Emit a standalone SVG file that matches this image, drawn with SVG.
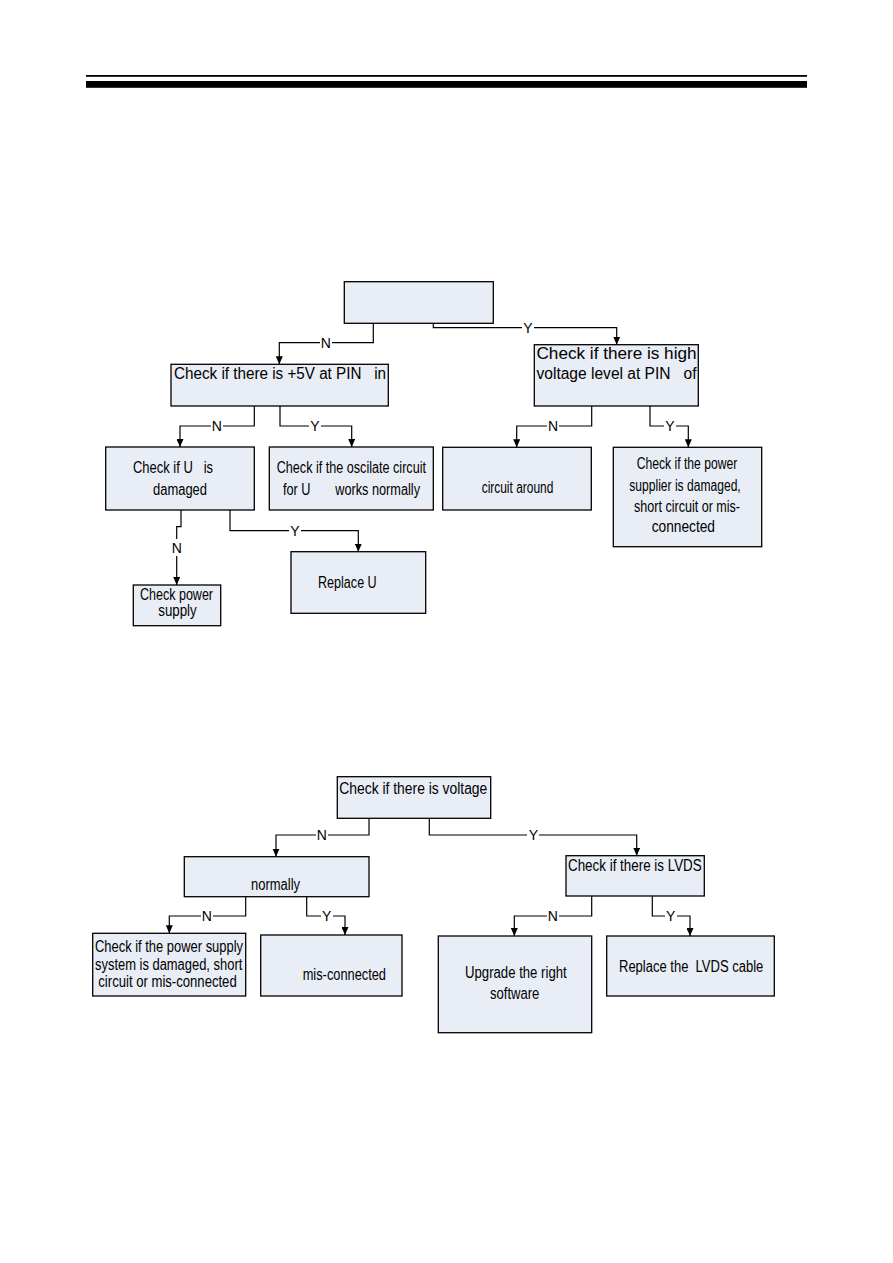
<svg xmlns="http://www.w3.org/2000/svg" width="893" height="1263" viewBox="0 0 893 1263">
<defs>
<marker id="ah" markerWidth="8" markerHeight="7" refX="8" refY="3.5" orient="auto" markerUnits="userSpaceOnUse" viewBox="0 0 8 7">
<path d="M0,0 L8,3.5 L0,7 Z" fill="#000"/>
</marker>
<style>
.box{fill:#e9edf5;stroke:#000;stroke-width:1.3}
.t{font-family:"Liberation Sans",Arial,sans-serif;font-size:16px;fill:#000}
.c{fill:none;stroke:#000;stroke-width:1.2;marker-end:url(#ah)}
.lb{fill:#fff}
.l{font-family:"Liberation Sans",Arial,sans-serif;font-size:14px;fill:#000;text-anchor:middle}
</style>
</defs>
<rect width="893" height="1263" fill="#fff"/>
<g id="header">
<rect x="86" y="75" width="721" height="1.8" fill="#000"/>
<rect x="86" y="81" width="721" height="6.8" fill="#000"/>
</g>
<g id="connectors">
<path class="c" d="M373.3,323.3 V342.7 H279.3 V364.3"/>
<path class="c" d="M433.3,323.3 V327.7 H616.7 V344.7"/>
<path class="c" d="M254.3,406 V426 H180 V447"/>
<path class="c" d="M280,406 V426 H351.7 V447"/>
<path class="c" d="M591.7,406 V426 H516.7 V447.3"/>
<path class="c" d="M650,406 V426 H688.3 V447.3"/>
<path class="c" d="M181,510 V526.7 H176.7 V585"/>
<path class="c" d="M230,510 V530.7 H358.3 V551.7"/>
<path class="c" d="M369,818.3 V835 H276 V856.7"/>
<path class="c" d="M429.3,818.3 V835 H636.7 V855.7"/>
<path class="c" d="M245.7,896.7 V916 H169.3 V933.3"/>
<path class="c" d="M306.7,896.7 V916 H345 V935"/>
<path class="c" d="M591.7,896 V916 H514.3 V936"/>
<path class="c" d="M652.3,896 V916 H690 V936"/>
<rect class="lb" x="320" y="335" width="12" height="15"/><text class="l" x="325.7" y="347.7">N</text>
<rect class="lb" x="522" y="320" width="12" height="15"/><text class="l" x="528" y="332.7">Y</text>
<rect class="lb" x="211" y="418" width="12" height="15"/><text class="l" x="216.7" y="431">N</text>
<rect class="lb" x="309" y="418" width="12" height="15"/><text class="l" x="315" y="431">Y</text>
<rect class="lb" x="547" y="418" width="12" height="15"/><text class="l" x="553" y="431">N</text>
<rect class="lb" x="664" y="418" width="12" height="15"/><text class="l" x="670" y="431">Y</text>
<rect class="lb" x="170" y="539" width="13" height="17"/><text class="l" x="176.7" y="553">N</text>
<rect class="lb" x="289" y="523" width="12" height="15"/><text class="l" x="295" y="535.7">Y</text>
<rect class="lb" x="316" y="827" width="12" height="15"/><text class="l" x="321.7" y="840">N</text>
<rect class="lb" x="527" y="827" width="12" height="15"/><text class="l" x="533.3" y="840">Y</text>
<rect class="lb" x="201" y="908" width="12" height="15"/><text class="l" x="206.7" y="921">N</text>
<rect class="lb" x="321" y="908" width="12" height="15"/><text class="l" x="326.7" y="921">Y</text>
<rect class="lb" x="547" y="908" width="12" height="15"/><text class="l" x="552.7" y="921">N</text>
<rect class="lb" x="665" y="908" width="12" height="15"/><text class="l" x="670.7" y="921">Y</text>
</g>
<g id="n1"><rect class="box" x="344.3" y="281.7" width="149" height="41.6"/></g>
<g id="n2"><rect class="box" x="171" y="364.3" width="217.3" height="41.7"/>
<text class="t" x="174" y="378.5" textLength="212" lengthAdjust="spacingAndGlyphs" xml:space="preserve">Check if there is +5V at PIN   in</text></g>
<g id="n3"><rect class="box" x="534.3" y="344.7" width="164" height="61.3"/>
<text class="t" x="536.5" y="358.5" textLength="160" lengthAdjust="spacingAndGlyphs">Check if there is high</text>
<text class="t" x="536.5" y="378.5" textLength="160" lengthAdjust="spacingAndGlyphs" xml:space="preserve">voltage level at PIN   of</text></g>
<g id="n4"><rect class="box" x="105.7" y="447" width="148.6" height="63"/>
<text class="t" x="133" y="472.7" textLength="80" lengthAdjust="spacingAndGlyphs" xml:space="preserve">Check if U   is</text>
<text class="t" x="153" y="495" textLength="54" lengthAdjust="spacingAndGlyphs">damaged</text></g>
<g id="n5"><rect class="box" x="269.3" y="447" width="164" height="63"/>
<text class="t" x="276.7" y="473" textLength="149.3" lengthAdjust="spacingAndGlyphs">Check if the oscilate circuit</text>
<text class="t" x="283" y="495" textLength="137" lengthAdjust="spacingAndGlyphs" xml:space="preserve">for U       works normally</text></g>
<g id="n6"><rect class="box" x="442.7" y="447.3" width="148.6" height="62.7"/>
<text class="t" x="481.7" y="493.3" textLength="71.6" lengthAdjust="spacingAndGlyphs">circuit around</text></g>
<g id="n7"><rect class="box" x="613.3" y="447.3" width="148.4" height="99.4"/>
<text class="t" x="636.7" y="468.5" textLength="100.6" lengthAdjust="spacingAndGlyphs">Check if the power</text>
<text class="t" x="629.3" y="490.7" textLength="111.4" lengthAdjust="spacingAndGlyphs">supplier is damaged,</text>
<text class="t" x="634" y="511.7" textLength="106" lengthAdjust="spacingAndGlyphs">short circuit or mis-</text>
<text class="t" x="651.7" y="532" textLength="63.3" lengthAdjust="spacingAndGlyphs">connected</text></g>
<g id="n8"><rect class="box" x="133.3" y="585" width="87.4" height="40.7"/>
<text class="t" x="140" y="599.5" textLength="73" lengthAdjust="spacingAndGlyphs">Check power</text>
<text class="t" x="158.3" y="616" textLength="38.4" lengthAdjust="spacingAndGlyphs">supply</text></g>
<g id="n9"><rect class="box" x="291" y="551.7" width="134.7" height="61.6"/>
<text class="t" x="318" y="587.5" textLength="58.7" lengthAdjust="spacingAndGlyphs">Replace U</text></g>
<g id="n10"><rect class="box" x="337.3" y="776.7" width="153.4" height="41.6"/>
<text class="t" x="339.3" y="793.5" textLength="148" lengthAdjust="spacingAndGlyphs">Check if there is voltage</text></g>
<g id="n11"><rect class="box" x="184.3" y="856.7" width="184.7" height="40"/>
<text class="t" x="251" y="890" textLength="49" lengthAdjust="spacingAndGlyphs">normally</text></g>
<g id="n12"><rect class="box" x="566" y="855.7" width="138.3" height="40.3"/>
<text class="t" x="568" y="870.5" textLength="133.7" lengthAdjust="spacingAndGlyphs">Check if there is LVDS</text></g>
<g id="n13"><rect class="box" x="92.7" y="933.3" width="153" height="62.7"/>
<text class="t" x="95" y="952" textLength="148" lengthAdjust="spacingAndGlyphs">Check if the power supply</text>
<text class="t" x="95" y="969.5" textLength="147.3" lengthAdjust="spacingAndGlyphs">system is damaged, short</text>
<text class="t" x="98.3" y="987" textLength="138.4" lengthAdjust="spacingAndGlyphs">circuit or mis-connected</text></g>
<g id="n14"><rect class="box" x="260.7" y="935" width="141.3" height="61"/>
<text class="t" x="302.7" y="980" textLength="83.3" lengthAdjust="spacingAndGlyphs">mis-connected</text></g>
<g id="n15"><rect class="box" x="438.3" y="936" width="153.4" height="96.7"/>
<text class="t" x="465" y="977.5" textLength="101.7" lengthAdjust="spacingAndGlyphs">Upgrade the right</text>
<text class="t" x="490" y="998.5" textLength="49.3" lengthAdjust="spacingAndGlyphs">software</text></g>
<g id="n16"><rect class="box" x="606.7" y="936" width="167.6" height="60"/>
<text class="t" x="619" y="972" textLength="144.3" lengthAdjust="spacingAndGlyphs" xml:space="preserve">Replace the  LVDS cable</text></g>
</svg>
